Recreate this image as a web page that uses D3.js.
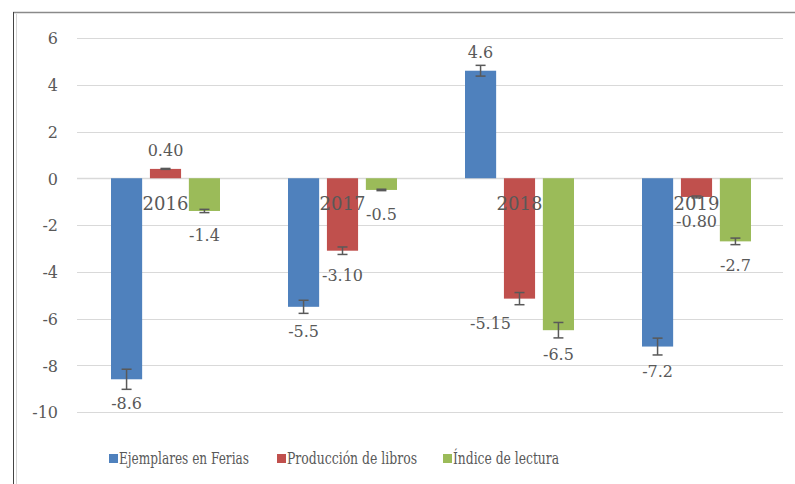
<!DOCTYPE html>
<html>
<head>
<meta charset="utf-8">
<script src="https://cdn.jsdelivr.net/npm/d3@7"></script>
<style>
  body { margin: 0; background: #fff; }
  text { fill: #595959; }
</style>
</head>
<body>
<div id="viz-container"></div>
<script>
let years = ["2016", "2017", "2018", "2019"];
let seriesNames = ["Ejemplares en Ferias", "Producción de libros", "Índice de lectura"];
let ejemplares = [-8.6, -5.5, 4.6, -7.2];
let produccion = [0.40, -3.10, -5.15, -0.80];
let indice = [-1.4, -0.5, -6.5, -2.7];
let errEjemplares = [0.43, 0.28, 0.23, 0.36];
let errProduccion = [0.02, 0.16, 0.26, 0.04];
let errIndice = [0.07, 0.03, 0.33, 0.14];
let labEjemplares = ["-8.6", "-5.5", "4.6", "-7.2"];
let labProduccion = ["0.40", "-3.10", "-5.15", "-0.80"];
let labIndice = ["-1.4", "-0.5", "-6.5", "-2.7"];
let yTicks = [6, 4, 2, 0, -2, -4, -6, -8, -10];

let s2c = {"Ejemplares en Ferias": "#4F81BD", "Producción de libros": "#C0504D", "Índice de lectura": "#9BBB59"};

let seriesVals = [ejemplares, produccion, indice];
let seriesErr = [errEjemplares, errProduccion, errIndice];
let seriesLab = [labEjemplares, labProduccion, labIndice];

let rows = [];
seriesNames.forEach((s, si) => {
    years.forEach((yr, i) => {
        rows.push({series: s, year: yr, value: seriesVals[si][i], err: seriesErr[si][i], label: seriesLab[si][i]});
    });
});

let viz = d3.select("#viz-container")
    .append("svg")
        .attr("width", 795)
        .attr("height", 484)
;

// chart frame
viz.append("line").attr("x1", 13).attr("x2", 795).attr("y1", 12.5).attr("y2", 12.5)
    .attr("stroke", "#8a8a8a").attr("stroke-width", 1.5);
viz.append("line").attr("x1", 13.5).attr("x2", 13.5).attr("y1", 12).attr("y2", 484)
    .attr("stroke", "#444").attr("stroke-width", 1);
viz.append("line").attr("x1", 16.5).attr("x2", 16.5).attr("y1", 14).attr("y2", 484)
    .attr("stroke", "#d4d4d4").attr("stroke-width", 1);

let x0 = d3.scaleBand().domain(years).range([77, 785]).padding(0);
let x1 = d3.scaleBand().domain(seriesNames).range([34, 143]).paddingInner(0.2).paddingOuter(0);
let y = d3.scaleLinear().domain([-10, 6]).range([412, 38]);

// gridlines
viz.selectAll(".grid").data(yTicks).enter()
    .append("line")
        .attr("x1", 77).attr("x2", 783)
        .attr("y1", d => Math.round(y(d)) + 0.5)
        .attr("y2", d => Math.round(y(d)) + 0.5)
        .attr("stroke", "#d9d9d9")
        .attr("stroke-width", d => d === 0 ? 1.5 : 1)
;

// y axis labels (plain hyphen, as in the original)
let yAxis = d3.axisLeft(y).tickValues(yTicks).tickSize(0).tickPadding(0).tickFormat(d => String(d));
let yg = viz.append("g").attr("transform", "translate(58,0)").call(yAxis);
yg.select(".domain").remove();
yg.selectAll("text")
    .attr("font-family", "DejaVu Serif")
    .attr("font-size", 16)
    .attr("fill", "#595959")
    .attr("dy", "0.36em");

// bars
viz.selectAll(".bar").data(rows).enter()
    .append("rect")
        .attr("x", d => x0(d.year) + x1(d.series))
        .attr("y", d => y(Math.max(0, d.value)))
        .attr("width", x1.bandwidth())
        .attr("height", d => Math.abs(y(d.value) - y(0)))
        .attr("fill", d => s2c[d.series])
;

// error bars
let eb = viz.selectAll(".err").data(rows).enter().append("g")
    .attr("stroke", "#595959").attr("stroke-width", 1.5);
let cx = d => x0(d.year) + x1(d.series) + x1.bandwidth() / 2;
eb.append("line").attr("x1", cx).attr("x2", cx)
    .attr("y1", d => y(d.value - d.err)).attr("y2", d => y(d.value + d.err));
eb.append("line").attr("x1", d => cx(d) - 5).attr("x2", d => cx(d) + 5)
    .attr("y1", d => y(d.value - d.err)).attr("y2", d => y(d.value - d.err));
eb.append("line").attr("x1", d => cx(d) - 5).attr("x2", d => cx(d) + 5)
    .attr("y1", d => y(d.value + d.err)).attr("y2", d => y(d.value + d.err));

// value labels (the -5.15 one was nudged left in the original)
viz.selectAll(".vlab").data(rows).enter()
    .append("text")
        .attr("x", d => cx(d) + (d.label === "-5.15" ? -29 : 0))
        .attr("y", d => d.value >= 0 ? y(d.value) - 13 : y(d.value) + 30)
        .attr("text-anchor", "middle")
        .attr("font-family", "DejaVu Serif")
        .attr("font-size", 16)
        .text(d => d.label)
;

// category labels next to the zero line
viz.selectAll(".cat").data(years).enter()
    .append("text")
        .attr("x", d => x0(d) + x0.bandwidth() / 2)
        .attr("y", y(0) + 32)
        .attr("text-anchor", "middle")
        .attr("font-family", "DejaVu Serif")
        .attr("font-size", 18)
        .text(d => d)
;

// legend - narrow serif look, squeezed to the original widths
let legX = [109, 277, 443];
let legW = [130, 130, 106];
let leg = viz.selectAll(".leg").data(seriesNames).enter().append("g")
    .attr("transform", (d, i) => `translate(${legX[i]},0)`);
leg.append("rect").attr("x", 0).attr("y", 454).attr("width", 9).attr("height", 9)
    .attr("fill", d => s2c[d]);
leg.append("text").attr("x", 10).attr("y", 464)
    .attr("font-family", "DejaVu Serif Condensed, DejaVu Serif")
    .attr("font-size", 16)
    .attr("textLength", (d, i) => legW[i])
    .attr("lengthAdjust", "spacingAndGlyphs")
    .text(d => d);
</script>
</body>
</html>
